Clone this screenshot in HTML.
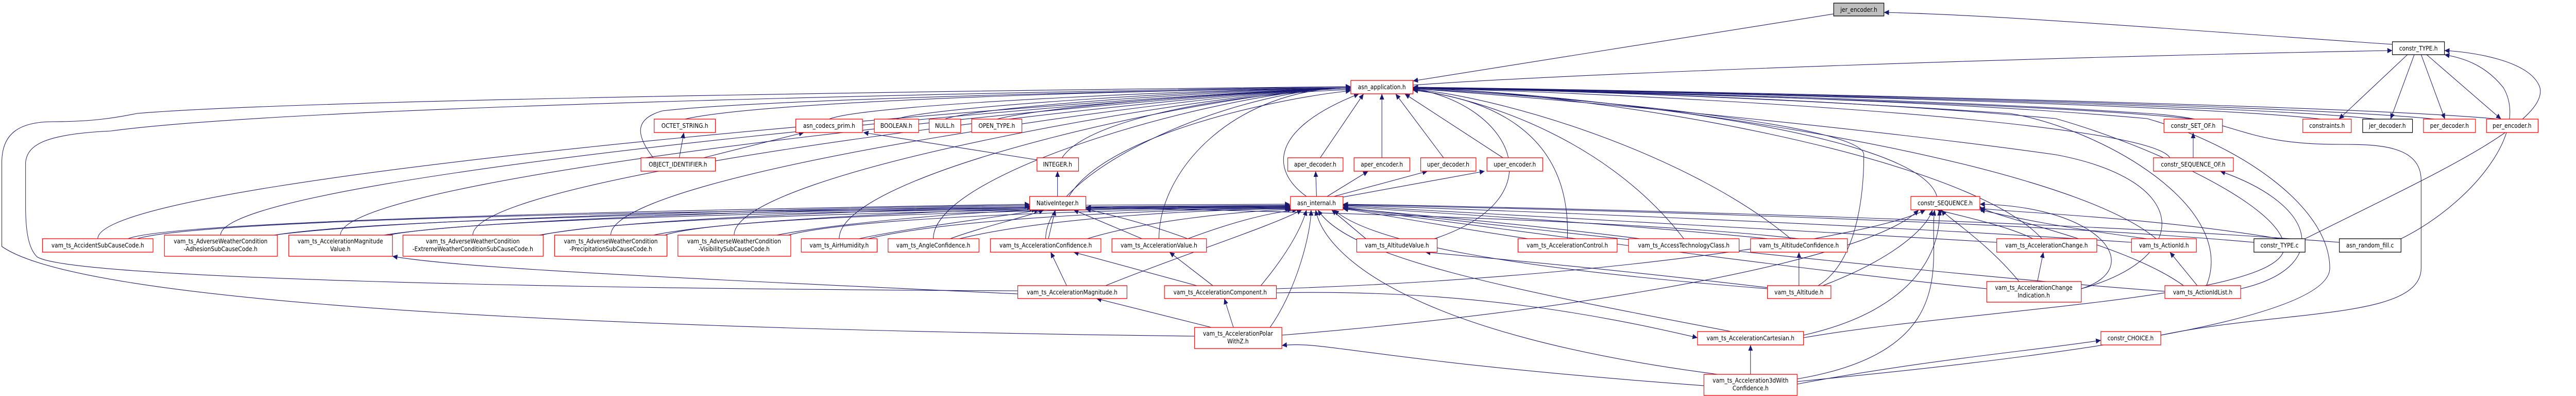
<!DOCTYPE html>
<html><head><meta charset="utf-8"><style>
html,body{margin:0;padding:0;background:#fff;width:100%;height:100%;overflow:hidden}
svg{display:block;width:100vw;height:100vh;overflow:hidden}
.n rect{fill:#fff;stroke:#ff0000;stroke-width:1.3}
.k rect{fill:#fff;stroke:#000;stroke-width:1.3}
text{font-family:"DejaVu Sans","Liberation Sans",sans-serif;font-size:12px;fill:#000;text-anchor:middle}
.e path{fill:none;stroke:#191970;stroke-width:1.1}
</style></head><body>
<svg viewBox="0 0 5639 768" preserveAspectRatio="none" xmlns="http://www.w3.org/2000/svg">
<defs><marker id="a" markerUnits="userSpaceOnUse" markerWidth="12" markerHeight="10" refX="11" refY="5" orient="auto"><path d="M0,0 L11,5 L0,10 z" fill="#191970"/></marker></defs>
<g class="e" marker-end="url(#a)">
<path d="M4014,27 L3093,157"/>
<path d="M5237,86 C4800,60 4400,30 4124,24"/>
<path d="M3093,165 C3500,140 4500,110 5237,98"/>
<path d="M5046,463 C5300,350 5580,240 5560,170 C5540,115 5400,100 5351,98"/>
<path d="M5256,463 C5400,400 5540,260 5480,170 C5440,125 5390,112 5351,106"/>
<path d="M5270,106 L5120,231"/><path d="M5285,106 L5233,231"/><path d="M5300,106 L5352,231"/><path d="M5312,106 L5475,231"/>
<path d="M214,463 C214,330 2700,172 2957,170"/>
<path d="M483,456 C483,330 2700,172 2957,170"/>
<path d="M745,456 C745,330 2700,172 2957,170"/>
<path d="M1035,456 C1035,330 2700,172 2957,170"/>
<path d="M1337,456 C1337,330 2700,172 2957,170"/>
<path d="M1607,456 C1607,330 2700,172 2957,170"/>
<path d="M1837,463 C1837,330 2700,172 2957,170"/>
<path d="M2043,463 C2043,330 2700,172 2957,170"/>
<path d="M2289,463 C2289,330 2700,172 2957,170"/>
<path d="M2537,463 C2537,330 2700,172 2957,170"/>
<path d="M1499,231 C1700,190 2700,172 2957,170"/>
<path d="M1815,231 C1900,200 2700,172 2957,170"/>
<path d="M1962,231 C2050,205 2700,172 2957,170"/>
<path d="M2068,231 C2150,205 2700,175 2957,170"/>
<path d="M2182,231 C2300,205 2700,178 2957,172"/>
<path d="M1430,306 C1390,260 1390,230 1450,215 C1700,190 2700,172 2957,170"/>
<path d="M2325,306 C2380,230 2700,180 2957,174"/>
<path d="M2340,381 C2420,260 2800,190 2957,176"/>
<path d="M2890,306 L2985,182"/>
<path d="M3025,306 L3025,182"/>
<path d="M3160,306 L3055,182"/>
<path d="M3290,306 L3075,182"/>
<path d="M2860,381 C2780,330 2780,250 2975,182"/>
<path d="M2615,652 C1500,640 200,600 4,478 L4,315 C4,260 40,236 117,236 C200,236 250,229 300,220 C700,190 2500,172 2957,168"/>
<path d="M2228,564 C1200,560 150,540 81,498 C60,480 56,440 56,399 L56,315 C60,280 100,260 243,254 C700,200 2500,175 2957,168"/>
<path d="M3140,463 C3420,380 3300,200 3093,172"/>
<path d="M3431,463 C3440,250 3250,190 3093,175"/>
<path d="M3686,463 C3500,250 3200,185 3093,174"/>
<path d="M3920,463 C3700,300 3300,190 3093,173"/>
<path d="M3980,554 C4080,500 4080,330 4080,300 C4080,240 3400,185 3093,172"/>
<path d="M4801,231 C4500,200 3400,175 3093,171"/>
<path d="M4750,306 C4700,230 3500,178 3093,171"/>
<path d="M5080,231 C4800,200 3400,173 3093,170"/>
<path d="M5200,231 C4900,200 3400,173 3093,170"/>
<path d="M5330,231 C5000,200 3400,172 3093,170"/>
<path d="M5470,231 C5100,200 3400,172 3093,169"/>
<path d="M4240,381 C4200,250 3400,180 3093,171"/>
<path d="M4730,650 C5000,600 5300,620 5300,520 L5300,350 C5300,280 5200,280 5120,280 C4900,280 4900,230 4700,220 C4200,190 3400,175 3093,170"/>
<path d="M4470,463 C4300,300 3500,180 3093,171"/>
<path d="M4720,463 C4500,300 3500,180 3093,171"/>
<path d="M4830,554 C4900,400 4600,250 4400,220 C3900,190 3400,175 3093,170"/>
<path d="M4556,560 C4800,500 4800,350 4500,300 C4100,250 3400,190 3093,172"/>
<path d="M3948,655 C4300,600 5000,580 5000,480 C5000,400 4700,280 4500,230 C4000,190 3400,175 3093,170"/>
<path d="M3934,740 C4400,700 5100,630 5100,520 C5100,400 4900,280 4700,230 C4200,190 3400,175 3093,170"/>
<path d="M280,463 C400,420 2000,400 2254,396"/>
<path d="M600,456 C900,420 2000,400 2254,398"/>
<path d="M840,456 C1100,420 2000,402 2254,400"/>
<path d="M1180,456 C1400,420 2050,405 2260,402"/>
<path d="M1430,456 C1600,425 2100,408 2265,405"/>
<path d="M1700,456 C1850,430 2150,410 2270,407"/>
<path d="M1880,463 C2000,440 2200,420 2275,407"/>
<path d="M2080,463 C2150,440 2250,420 2285,407"/>
<path d="M2295,463 L2310,407"/>
<path d="M2500,463 L2350,407"/>
<path d="M300,463 C500,410 2500,400 2824,398"/>
<path d="M600,456 C900,412 2500,400 2824,399"/>
<path d="M850,456 C1100,412 2500,402 2824,400"/>
<path d="M1185,456 C1400,412 2500,403 2824,401"/>
<path d="M1455,456 C1600,414 2500,404 2824,402"/>
<path d="M1725,456 C1900,416 2550,405 2824,403"/>
<path d="M1900,463 C2100,420 2600,405 2824,404"/>
<path d="M2100,463 C2300,420 2650,406 2826,405"/>
<path d="M2380,463 C2500,430 2700,410 2830,406"/>
<path d="M2600,463 C2700,430 2780,412 2840,407"/>
<path d="M2377,398 L2824,396"/>
<path d="M2420,554 C2600,490 2780,440 2850,407"/>
<path d="M2760,554 C2820,490 2850,440 2860,407"/>
<path d="M2780,635 C2840,560 2870,450 2870,407"/>
<path d="M3790,643 C3300,560 2950,500 2885,407"/>
<path d="M3760,726 C3100,650 2900,500 2880,407"/>
<path d="M3869,560 C3300,520 3000,470 2920,407"/>
<path d="M2990,463 L2915,407"/>
<path d="M3345,463 C3100,430 2990,410 2940,405"/>
<path d="M3590,463 C3300,430 3000,410 2940,403"/>
<path d="M3870,463 C3500,430 3000,405 2940,401"/>
<path d="M4371,470 C3800,440 3100,405 2940,399"/>
<path d="M4666,470 C4000,430 3100,402 2940,398"/>
<path d="M4934,470 C4300,420 3100,400 2940,397"/>
<path d="M5121,470 C4400,420 3100,398 2940,396"/>
<path d="M4739,565 C4200,530 3100,420 2940,402"/>
<path d="M4349,560 C3900,520 3100,420 2940,404"/>
<path d="M4000,470 C3600,420 2500,405 2377,402"/>
<path d="M2600,463 C2500,430 2420,415 2377,405"/>
<path d="M4450,463 C4400,440 4300,420 4240,407"/>
<path d="M4700,463 C4500,440 4400,420 4334,407"/>
<path d="M4420,546 C4350,470 4260,420 4250,407"/>
<path d="M4556,560 C4700,520 4600,400 4334,396"/>
<path d="M4780,554 C4650,470 4350,420 4334,400"/>
<path d="M3990,554 C4150,500 4220,440 4230,407"/>
<path d="M3948,650 C4200,600 4250,480 4245,407"/>
<path d="M3934,735 C4300,680 4220,500 4235,407"/>
<path d="M2806,650 C3500,600 4100,500 4200,407"/>
<path d="M2794,560 C3500,540 4100,460 4215,407"/>
<path d="M4990,463 C4700,420 4400,412 4334,404"/>
<path d="M1487,306 L1497,257"/><path d="M1540,306 L1760,257"/><path d="M2270,310 L1890,257"/>
<path d="M2315,381 L2315,332"/>
<path d="M2882,381 L2880,332"/><path d="M2905,381 L2995,332"/><path d="M2920,381 L3125,332"/><path d="M2935,383 L3250,332"/>
<path d="M4801,306 L4801,257"/>
<path d="M2335,554 L2300,489"/><path d="M2620,554 L2350,489"/><path d="M2655,554 L2560,489"/>
<path d="M2652,635 L2400,579"/><path d="M2700,635 L2680,579"/>
<path d="M3938,554 L3938,489"/>
<path d="M3890,560 C3700,540 3500,520 3120,489"/>
<path d="M3832,726 L3832,669"/>
<path d="M4810,554 L4750,489"/>
<path d="M4460,546 L4473,489"/>
<path d="M4905,560 C5100,520 5080,400 4860,332"/>
<path d="M3934,745 C4200,700 4450,680 4599,660"/>
<path d="M2228,570 C1500,540 1000,520 859,497"/>
<path d="M3730,748 C3000,700 2900,660 2806,670"/>
<path d="M2794,568 C3200,560 3500,610 3716,655"/>
</g>
<g class="n"><rect x="4014" y="6" width="110" height="25" style="fill:#bfbfbf;stroke:#000"/><text x="4069" y="23">jer_encoder.h</text></g>
<g class="k"><rect x="5237" y="81" width="114" height="25"/><text x="5294" y="98">constr_TYPE.h</text></g>
<g class="n"><rect x="2957" y="156" width="136" height="26"/><text x="3025" y="173">asn_application.h</text></g>
<g class="n"><rect x="1432" y="231" width="134" height="26"/><text x="1499" y="248">OCTET_STRING.h</text></g>
<g class="n"><rect x="1742" y="231" width="146" height="26"/><text x="1815" y="248">asn_codecs_prim.h</text></g>
<g class="n"><rect x="1914" y="231" width="97" height="26"/><text x="1962" y="248">BOOLEAN.h</text></g>
<g class="n"><rect x="2034" y="231" width="69" height="26"/><text x="2068" y="248">NULL.h</text></g>
<g class="n"><rect x="2127" y="231" width="110" height="26"/><text x="2182" y="248">OPEN_TYPE.h</text></g>
<g class="n"><rect x="4737" y="231" width="128" height="26"/><text x="4801" y="248">constr_SET_OF.h</text></g>
<g class="n"><rect x="5041" y="231" width="106" height="26"/><text x="5094" y="248">constraints.h</text></g>
<g class="k"><rect x="5172" y="231" width="109" height="26"/><text x="5226" y="248">jer_decoder.h</text></g>
<g class="n"><rect x="5305" y="231" width="114" height="26"/><text x="5362" y="248">per_decoder.h</text></g>
<g class="n"><rect x="5443" y="231" width="113" height="26"/><text x="5499" y="248">per_encoder.h</text></g>
<g class="n"><rect x="1403" y="306" width="163" height="26"/><text x="1484" y="323">OBJECT_IDENTIFIER.h</text></g>
<g class="n"><rect x="2270" y="306" width="91" height="26"/><text x="2315" y="323">INTEGER.h</text></g>
<g class="n"><rect x="2819" y="306" width="121" height="26"/><text x="2879" y="323">aper_decoder.h</text></g>
<g class="n"><rect x="2964" y="306" width="122" height="26"/><text x="3025" y="323">aper_encoder.h</text></g>
<g class="n"><rect x="3110" y="306" width="121" height="26"/><text x="3170" y="323">uper_decoder.h</text></g>
<g class="n"><rect x="3255" y="306" width="122" height="26"/><text x="3316" y="323">uper_encoder.h</text></g>
<g class="n"><rect x="4714" y="306" width="175" height="26"/><text x="4801" y="323">constr_SEQUENCE_OF.h</text></g>
<g class="n"><rect x="2254" y="381" width="123" height="26"/><text x="2315" y="398">NativeInteger.h</text></g>
<g class="n"><rect x="2825" y="381" width="115" height="26"/><text x="2882" y="398">asn_internal.h</text></g>
<g class="n"><rect x="4183" y="381" width="151" height="26"/><text x="4258" y="398">constr_SEQUENCE.h</text></g>
<g class="n"><rect x="93" y="463" width="242" height="26"/><text x="214" y="480">vam_ts_AccidentSubCauseCode.h</text></g>
<g class="n"><rect x="360" y="456" width="247" height="41"/><text x="483" y="472">vam_ts_AdverseWeatherCondition</text><text x="483" y="487">-AdhesionSubCauseCode.h</text></g>
<g class="n"><rect x="632" y="456" width="227" height="41"/><text x="745" y="472">vam_ts_AccelerationMagnitude</text><text x="745" y="487">Value.h</text></g>
<g class="n"><rect x="882" y="456" width="307" height="41"/><text x="1035" y="472">vam_ts_AdverseWeatherCondition</text><text x="1035" y="487">-ExtremeWeatherConditionSubCauseCode.h</text></g>
<g class="n"><rect x="1214" y="456" width="246" height="41"/><text x="1337" y="472">vam_ts_AdverseWeatherCondition</text><text x="1337" y="487">-PrecipitationSubCauseCode.h</text></g>
<g class="n"><rect x="1484" y="456" width="247" height="41"/><text x="1607" y="472">vam_ts_AdverseWeatherCondition</text><text x="1607" y="487">-VisibilitySubCauseCode.h</text></g>
<g class="n"><rect x="1754" y="463" width="166" height="26"/><text x="1837" y="480">vam_ts_AirHumidity.h</text></g>
<g class="n"><rect x="1944" y="463" width="199" height="26"/><text x="2043" y="480">vam_ts_AngleConfidence.h</text></g>
<g class="n"><rect x="2168" y="463" width="242" height="26"/><text x="2289" y="480">vam_ts_AccelerationConfidence.h</text></g>
<g class="n"><rect x="2434" y="463" width="207" height="26"/><text x="2537" y="480">vam_ts_AccelerationValue.h</text></g>
<g class="n"><rect x="2970" y="463" width="176" height="26"/><text x="3058" y="480">vam_ts_AltitudeValue.h</text></g>
<g class="n"><rect x="3323" y="463" width="217" height="26"/><text x="3431" y="480">vam_ts_AccelerationControl.h</text></g>
<g class="n"><rect x="3565" y="463" width="242" height="26"/><text x="3686" y="480">vam_ts_AccessTechnologyClass.h</text></g>
<g class="n"><rect x="3832" y="463" width="212" height="26"/><text x="3938" y="480">vam_ts_AltitudeConfidence.h</text></g>
<g class="n"><rect x="4371" y="463" width="219" height="26"/><text x="4480" y="480">vam_ts_AccelerationChange.h</text></g>
<g class="n"><rect x="4666" y="463" width="142" height="26"/><text x="4737" y="480">vam_ts_ActionId.h</text></g>
<g class="k"><rect x="4934" y="463" width="112" height="26"/><text x="4990" y="480">constr_TYPE.c</text></g>
<g class="k"><rect x="5121" y="463" width="135" height="26"/><text x="5188" y="480">asn_random_fill.c</text></g>
<g class="n"><rect x="2228" y="554" width="239" height="25"/><text x="2347" y="571">vam_ts_AccelerationMagnitude.h</text></g>
<g class="n"><rect x="2549" y="554" width="245" height="25"/><text x="2671" y="571">vam_ts_AccelerationComponent.h</text></g>
<g class="n"><rect x="3869" y="554" width="139" height="25"/><text x="3938" y="571">vam_ts_Altitude.h</text></g>
<g class="n"><rect x="4349" y="546" width="207" height="40"/><text x="4452" y="562">vam_ts_AccelerationChange</text><text x="4452" y="577">Indication.h</text></g>
<g class="n"><rect x="4739" y="554" width="166" height="25"/><text x="4822" y="571">vam_ts_ActionIdList.h</text></g>
<g class="n"><rect x="2615" y="635" width="191" height="41"/><text x="2710" y="651">vam_ts_AccelerationPolar</text><text x="2710" y="666">WithZ.h</text></g>
<g class="n"><rect x="3716" y="643" width="232" height="26"/><text x="3832" y="660">vam_ts_AccelerationCartesian.h</text></g>
<g class="n"><rect x="4599" y="643" width="131" height="26"/><text x="4664" y="660">constr_CHOICE.h</text></g>
<g class="n"><rect x="3730" y="726" width="204" height="41"/><text x="3832" y="742">vam_ts_Acceleration3dWith</text><text x="3832" y="757">Confidence.h</text></g>
</svg>
</body></html>
